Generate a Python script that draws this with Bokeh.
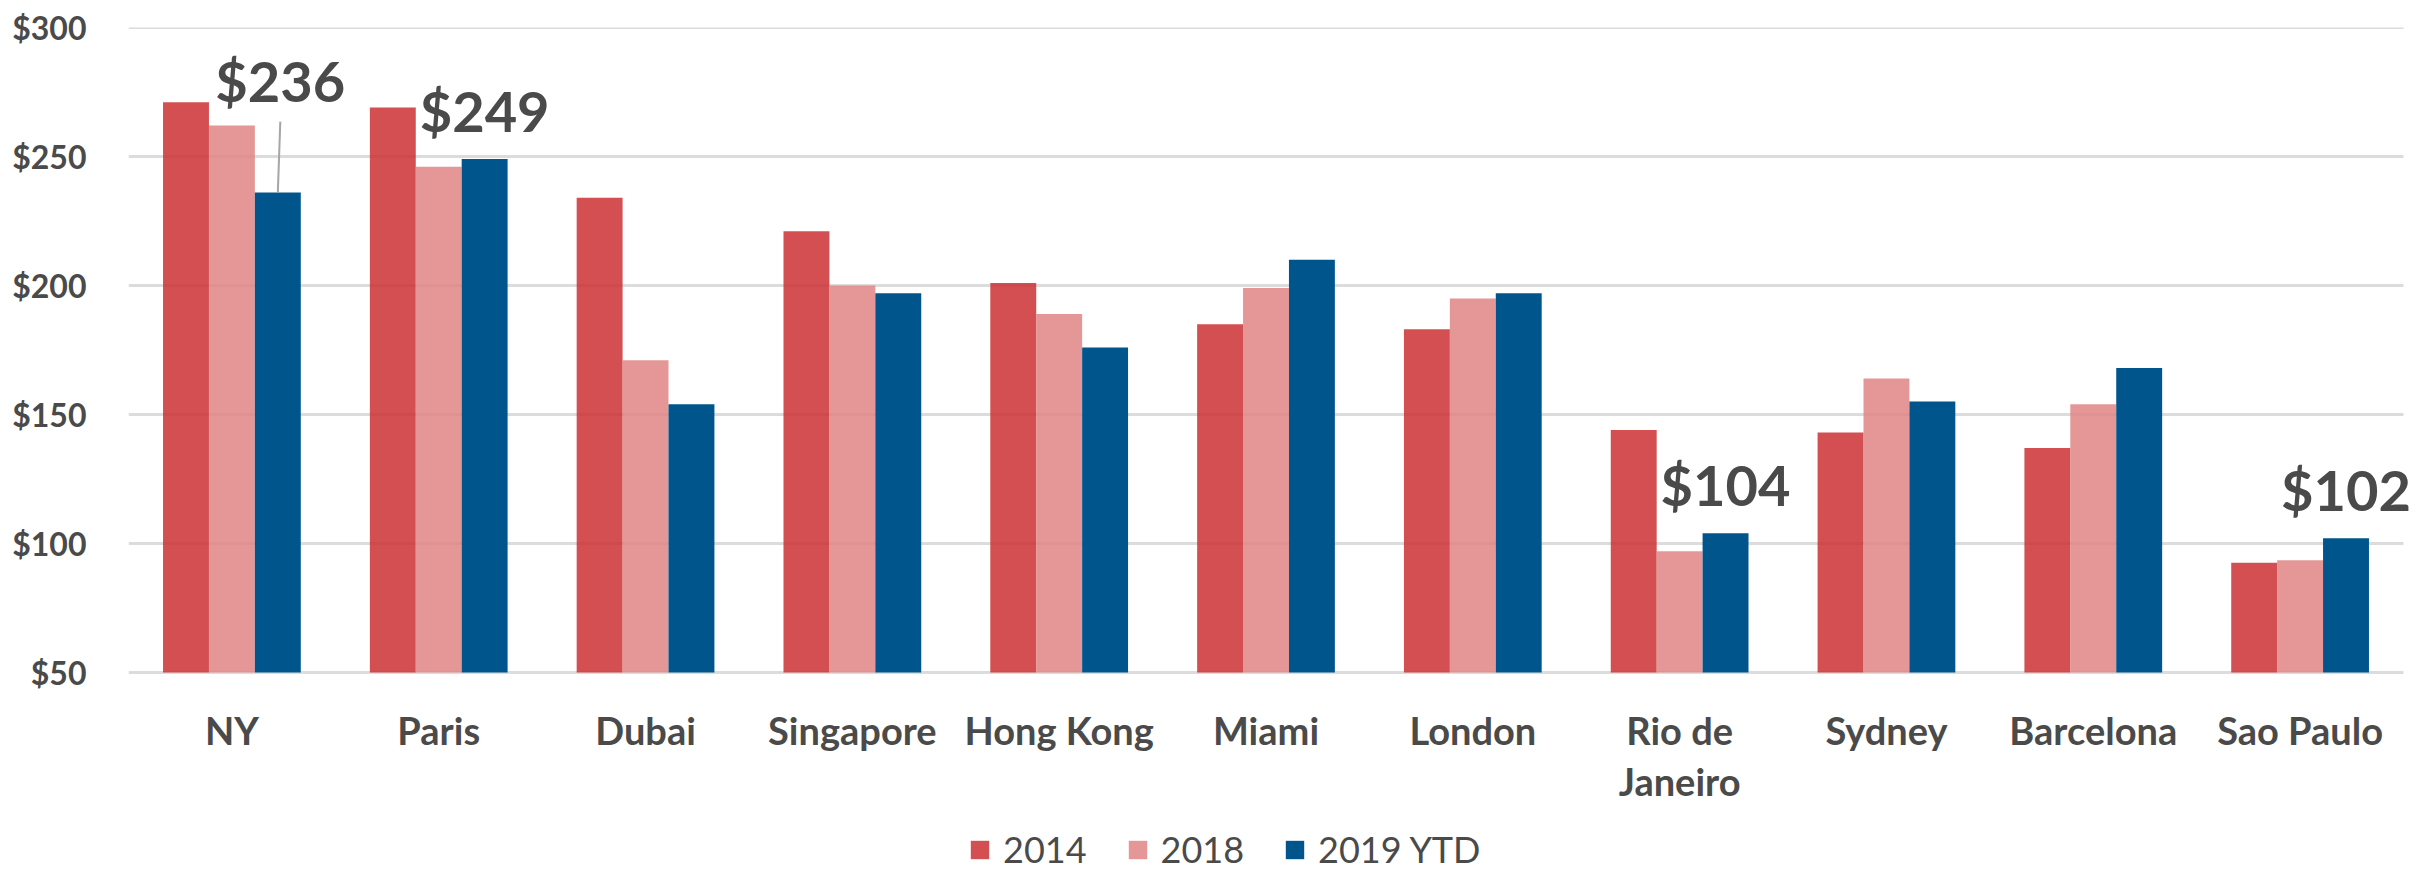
from bokeh.plotting import figure
from bokeh.models import (ColumnDataSource, Legend, LegendItem, FixedTicker,
                          PrintfTickFormatter, Range1d)
from bokeh.core.properties import value
from bokeh.embed import file_html
from bokeh.resources import INLINE

# ---------------- data ----------------
cities = ["NY", "Paris", "Dubai", "Singapore", "Hong Kong", "Miami", "London",
          "Rio de Janeiro", "Sydney", "Barcelona", "Sao Paulo"]
v2014 = [271, 269, 234, 221, 201, 185, 183, 144, 143, 137, 92.5]
v2018 = [262, 246, 171, 200, 189, 199, 195, 97, 164, 154, 93.5]
v2019 = [236, 249, 154, 197, 176, 210, 197, 104, 155, 168, 102]
series_names = ["2014", "2018", "2019 YTD"]
y_ticks = [50, 100, 150, 200, 250, 300]
callout_cities = ["NY", "Paris", "Rio de Janeiro", "Sao Paulo"]
wrapped_names = {"Rio de Janeiro": "Rio de\nJaneiro"}

# ---------------- style / geometry ----------------
FONT = "Lato"
TXT = "#4a4a4a"
colors = ["#CB3032", "#E08585", "#00568C"]
alphas = [0.85, 0.85, 1.0]
BW = 0.222
offsets = [-BW, 0.0, BW]

W, H = 2415, 871
B_LEFT, B_TOP = 128, 27
PLOT_W = 2275          # width of the category area in px
PLOT_H = 645           # px between $50 and $300 gridlines
Y_MIN, Y_MAX = 50, 300
ppu = PLOT_H / (Y_MAX - Y_MIN)
frame_w = W - B_LEFT
frame_h = H - B_TOP
n = len(cities)
cat_px = PLOT_W / n
x_end = frame_w / cat_px
y_start = Y_MAX - frame_h / ppu

xc = [i + 0.5 for i in range(n)]

p = figure(x_range=Range1d(0, x_end), y_range=Range1d(y_start, Y_MAX),
           width=W, height=H, output_backend="svg", toolbar_location=None,
           min_border_left=B_LEFT, min_border_right=0, min_border_top=B_TOP,
           min_border_bottom=0)
p.outline_line_color = None
p.background_fill_color = "white"
p.border_fill_color = "white"
p.xaxis.visible = False
p.xgrid.grid_line_color = None
p.ygrid.grid_line_color = None

# horizontal gridlines over the category area only
p.segment(x0=[0] * len(y_ticks), x1=[n] * len(y_ticks), y0=y_ticks, y1=y_ticks,
          line_color="#DCDCDC", line_width=3, level="underlay")

vals = [v2014, v2018, v2019]
renderers = []
for i in range(3):
    src = ColumnDataSource(dict(x=[c + offsets[i] for c in xc], top=vals[i]))
    r = p.vbar(x="x", top="top", bottom=Y_MIN, width=BW, source=src,
               fill_color=colors[i], fill_alpha=alphas[i], line_color=None)
    renderers.append(r)

# y axis
p.yaxis.ticker = FixedTicker(ticks=y_ticks)
p.yaxis.formatter = PrintfTickFormatter(format="$%d")
ax = p.yaxis[0]
ax.axis_line_color = None
ax.major_tick_line_color = None
ax.minor_tick_line_color = None
ax.major_label_text_font = FONT
ax.major_label_text_font_style = "bold"
ax.major_label_text_color = TXT
ax.major_label_text_font_size = "32px"
ax.major_label_standoff = 36

# category labels (drawn as text below the $50 line)
lab_x, lab_y, lab_t = [], [], []
for c, name in zip(xc, cities):
    for k, line in enumerate(wrapped_names.get(name, name).split("\n")):
        lab_x.append(c)
        lab_y.append(Y_MIN - (57 + 51 * k) / ppu)
        lab_t.append(line)
p.text(x=lab_x, y=lab_y, text=lab_t, text_font=value(FONT), text_font_style="bold",
       text_font_size="38px", text_color=TXT, text_align="center",
       text_baseline="alphabetic")

# legend
legend = Legend(items=[LegendItem(label=series_names[i], renderers=[renderers[i]]) for i in range(3)],
                orientation="horizontal", location=(840, 0),
                glyph_width=23, glyph_height=23, label_standoff=12, spacing=39,
                padding=0, margin=0, border_line_color=None, background_fill_alpha=0,
                label_text_font=FONT, label_text_font_size="36px", label_text_color=TXT)
p.add_layout(legend)

# call-out labels (2019 YTD values)
idx = [cities.index(c) for c in callout_cities]
cx = [xc[i] + BW for i in idx]
cy = [v2019[i] for i in idx]
ct = ["$%d" % v for v in cy]
common = dict(text_font=value(FONT), text_font_style="bold", text_font_size="56px",
              text_color=TXT, text_align="center", text_baseline="alphabetic")
# NY label sits higher with a leader line
p.text(x=[cx[0] + 0.012], y=[cy[0]], text=ct[:1], y_offset=-112, **common)
p.text(x=cx[1:], y=cy[1:], text=ct[1:], y_offset=-49, **common)
p.segment(x0=[cx[0]], y0=[cy[0]], x1=[cx[0] + 0.012], y1=[cy[0] + 71 / ppu],
          line_color="#A6A6A6", line_width=2)

open("out.html", "w").write(file_html(p, INLINE))
